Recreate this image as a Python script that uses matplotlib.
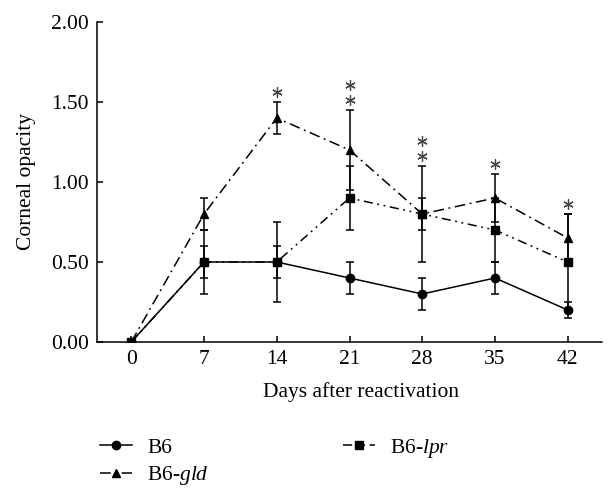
import matplotlib
matplotlib.use("Agg")
import matplotlib.pyplot as plt
import numpy as np

days = [0, 7, 14, 21, 28, 35, 42]
b6 = [0.0, 0.5, 0.5, 0.4, 0.3, 0.4, 0.2]
b6_err = [0.0, 0.2, 0.1, 0.1, 0.1, 0.1, 0.05]
gld = [0.0, 0.8, 1.4, 1.2, 0.8, 0.9, 0.65]
gld_err = [0.0, 0.1, 0.1, 0.25, 0.1, 0.15, 0.15]
lpr = [0.0, 0.5, 0.5, 0.9, 0.8, 0.7, 0.5]
lpr_err = [0.0, 0.1, 0.25, 0.2, 0.3, 0.2, 0.3]
star_counts = [0, 0, 1, 2, 2, 1, 1]
yticks = [0.0, 0.5, 1.0, 1.5, 2.0]
ytick_labels = ["0.00", "0.50", "1.00", "1.50", "2.00"]

plt.rcParams['font.family'] = ['Liberation Serif', 'DejaVu Serif']
plt.rcParams['mathtext.fontset'] = 'custom'
plt.rcParams['mathtext.rm'] = 'Liberation Serif'
plt.rcParams['mathtext.it'] = 'Liberation Serif:italic'
fs = 15.5

fig = plt.figure(figsize=(6.16, 4.95), dpi=100)
ax = fig.add_axes([97/616, 1-342/495, (602-97)/616, (342-22)/495])

lw = 1.1
common = dict(color='black', ecolor='black', elinewidth=1.1, capsize=3, capthick=1.1, lw=lw)
h1 = ax.errorbar(days, b6, yerr=b6_err, marker='o', ms=6, ls='-', zorder=3, **common)
h2 = ax.errorbar(days, gld, yerr=gld_err, marker='^', ms=6, ls=(0, (7, 3, 1.2, 3)), zorder=3, **common)
h3 = ax.errorbar(days, lpr, yerr=lpr_err, marker='s', ms=6, ls=(0, (6, 3, 1.2, 3, 1.2, 3)), zorder=4, **common)

# significance asterisks above the top error cap
for d, n, a, ae, b, be, c, ce in zip(days, star_counts, b6, b6_err, gld, gld_err, lpr, lpr_err):
    top = max(a + ae, b + be, c + ce)
    for k in range(n):
        ax.plot(d, top + 0.065 + k * 0.094, marker=(6, 2, 0), ms=7.5, mew=0.9,
                color='#444444', ls='none', zorder=5, clip_on=False)

ax.set_xlim(-3.3, 45.3)
ax.set_ylim(0, 2.0)
ax.set_xticks(days)
ax.set_xticklabels([str(d) for d in days], fontsize=fs)
ax.set_yticks(yticks)
ax.set_yticklabels(ytick_labels, fontsize=fs)
ax.tick_params(direction='in', length=4, width=1.1, pad=6)
for s in ['top', 'right']:
    ax.spines[s].set_visible(False)
for s in ['left', 'bottom']:
    ax.spines[s].set_linewidth(1.1)

ax.set_xlabel("Days after reactivation", fontsize=fs)
ax.xaxis.set_label_coords(0.523, -0.125)
ax.set_ylabel("Corneal opacity", fontsize=fs)
ax.yaxis.set_label_coords(-0.12, 0.5)

leg = fig.legend([h1[0], h2[0], h3[0]], ["B6", "B6-$\\mathit{gld}$", "B6-$\\mathit{lpr}$"],
                 ncol=2, loc='upper left', bbox_to_anchor=(100/616, 1-437/495),
                 frameon=False, fontsize=fs, handlelength=1.5, handletextpad=0.7,
                 columnspacing=6.2, labelspacing=0.3, borderpad=0, borderaxespad=0)

fig.savefig("out.png", dpi=100)
